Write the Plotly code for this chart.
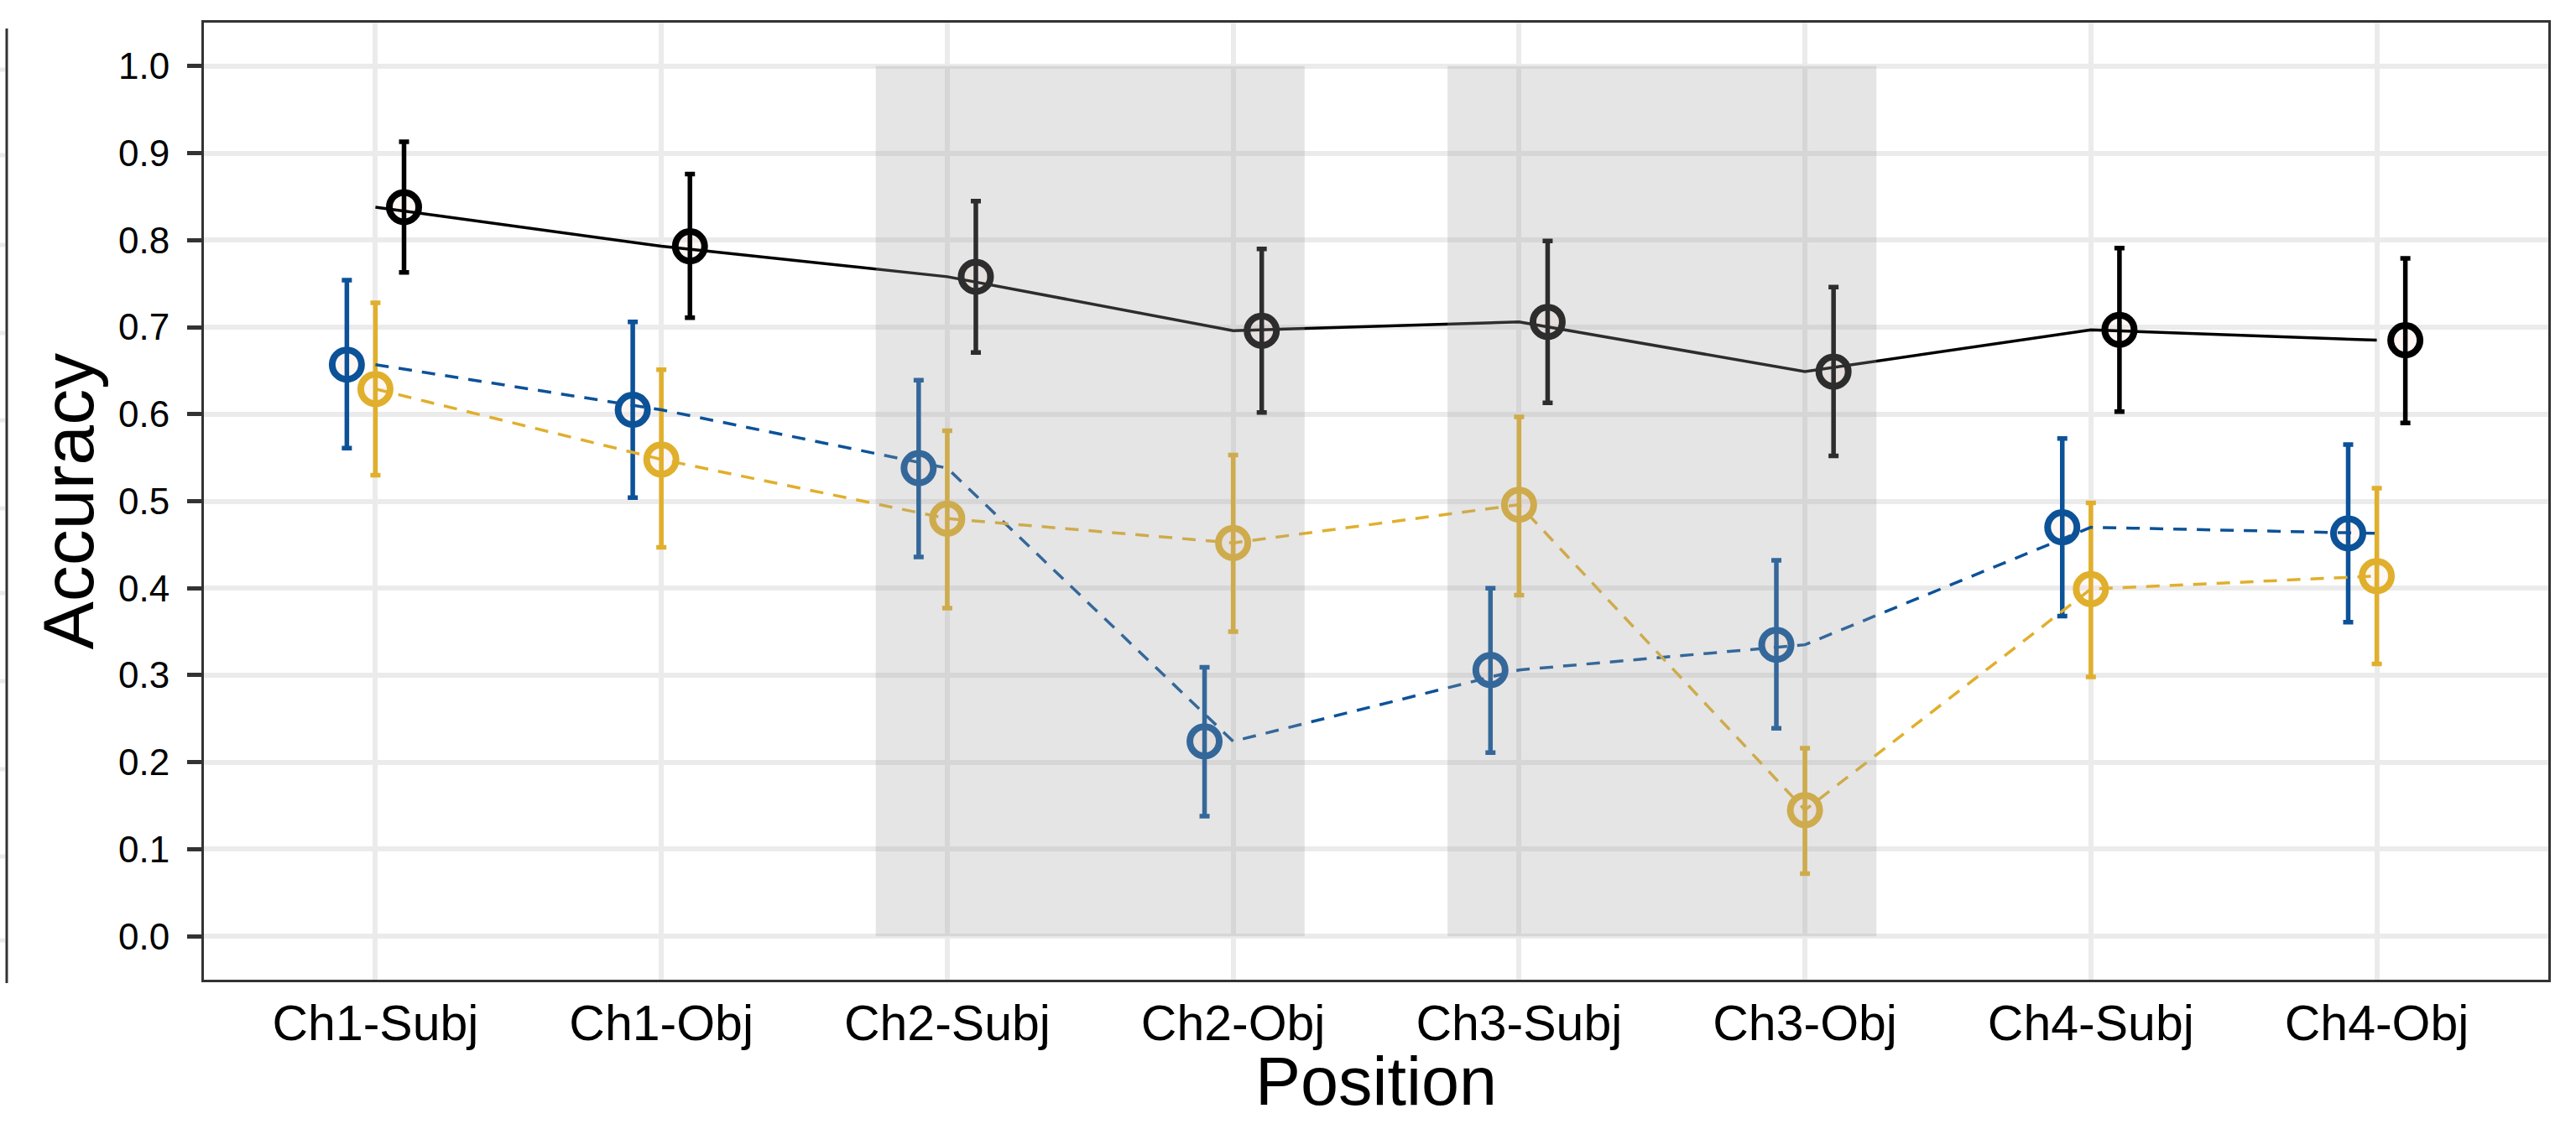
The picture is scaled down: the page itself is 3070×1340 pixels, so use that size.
import plotly.graph_objects as go

# ---------------- data ----------------
categories = ["Ch1-Subj", "Ch1-Obj", "Ch2-Subj", "Ch2-Obj",
              "Ch3-Subj", "Ch3-Obj", "Ch4-Subj", "Ch4-Obj"]

blue_mean = [0.657, 0.605, 0.538, 0.224, 0.306, 0.335, 0.470, 0.463]
blue_hi   = [0.754, 0.706, 0.639, 0.309, 0.400, 0.432, 0.572, 0.565]
blue_lo   = [0.561, 0.504, 0.436, 0.138, 0.211, 0.239, 0.368, 0.361]

yellow_mean = [0.629, 0.548, 0.480, 0.452, 0.496, 0.145, 0.399, 0.414]
yellow_hi   = [0.728, 0.651, 0.581, 0.553, 0.597, 0.216, 0.498, 0.515]
yellow_lo   = [0.530, 0.447, 0.377, 0.350, 0.392, 0.072, 0.298, 0.313]

black_mean = [0.838, 0.793, 0.758, 0.696, 0.706, 0.649, 0.697, 0.685]
black_hi   = [0.913, 0.876, 0.845, 0.790, 0.799, 0.746, 0.791, 0.779]
black_lo   = [0.763, 0.711, 0.671, 0.602, 0.613, 0.552, 0.603, 0.590]

y_ticks = [0.0, 0.1, 0.2, 0.3, 0.4, 0.5, 0.6, 0.7, 0.8, 0.9, 1.0]
y_tick_labels = ["0.0", "0.1", "0.2", "0.3", "0.4", "0.5",
                 "0.6", "0.7", "0.8", "0.9", "1.0"]

shaded_spans = [("Ch2-Subj", "Ch2-Obj"), ("Ch3-Subj", "Ch3-Obj")]

# ---------------- styling ----------------
W, H = 3070, 1340
ML, MR, MT, MB = 243, 33, 27, 172
PW, PH = W - ML - MR, H - MT - MB

series = [
    dict(mean=blue_mean, hi=blue_hi, lo=blue_lo, color="#0C5298",
         dash="16px,12px", offset=-0.1),
    dict(mean=yellow_mean, hi=yellow_hi, lo=yellow_lo, color="#E0AF2C",
         dash="16px,12px", offset=0.0),
    dict(mean=black_mean, hi=black_hi, lo=black_lo, color="#000000",
         dash="solid", offset=0.1),
]

idx = list(range(len(categories)))
fig = go.Figure()

# markers (light fill) then error bars on top, then lines
for s in series:
    xs = [i + s["offset"] for i in idx]
    fig.add_trace(go.Scatter(
        x=xs, y=s["mean"], mode="markers", showlegend=False, hoverinfo="skip",
        marker=dict(symbol="circle", size=35,
                    color="rgba(255,225,210,0.25)",
                    line=dict(color=s["color"], width=8)),
    ))
for s in series:
    xs = [i + s["offset"] for i in idx]
    fig.add_trace(go.Scatter(
        x=xs, y=s["mean"], mode="markers", showlegend=False, hoverinfo="skip",
        marker=dict(size=1, color="rgba(0,0,0,0)"),
        error_y=dict(type="data", symmetric=False,
                     array=[h - m for h, m in zip(s["hi"], s["mean"])],
                     arrayminus=[m - l for m, l in zip(s["mean"], s["lo"])],
                     color=s["color"], thickness=5.5, width=6),
    ))
for s in series:
    fig.add_trace(go.Scatter(
        x=idx, y=s["mean"], mode="lines", showlegend=False, hoverinfo="skip",
        line=dict(color=s["color"], width=3.5, dash=s["dash"]),
    ))

shapes = []
for a, b in shaded_spans:
    shapes.append(dict(type="rect", xref="x", yref="y",
                       x0=categories.index(a) - 0.25, x1=categories.index(b) + 0.25,
                       y0=0, y1=1, fillcolor="rgba(162,162,162,0.28)",
                       line=dict(width=0), layer="above"))

# fragment of the neighbouring (cropped) panel at the far left edge
def px_x(p):
    return (p - ML) / PW

def px_y(p):
    return (H - MB - p) / PH

shapes.append(dict(type="line", xref="paper", yref="paper",
                   x0=px_x(8), x1=px_x(8), y0=px_y(34), y1=px_y(1172),
                   line=dict(color="#333333", width=3), layer="above"))
for p in [83, 185, 292, 397, 501, 606, 707, 812, 917, 1021, 1121]:
    shapes.append(dict(type="line", xref="paper", yref="paper",
                       x0=px_x(0), x1=px_x(6), y0=px_y(p), y1=px_y(p),
                       line=dict(color="#EBEBEB", width=5)))

font_family = "Liberation Sans, Arial, Helvetica, sans-serif"

fig.update_layout(
    width=W, height=H, autosize=False,
    margin=dict(l=ML, r=MR, t=MT, b=MB, pad=0),
    paper_bgcolor="white", plot_bgcolor="white",
    font=dict(family=font_family, color="#1A1A1A"),
    shapes=shapes,
    annotations=[
        dict(text="Accuracy", xref="paper", yref="paper",
             x=px_x(80), y=0.5, xanchor="center", yanchor="middle",
             textangle=-90, showarrow=False,
             font=dict(size=86, color="#000000", family=font_family)),
        dict(text="Position", xref="paper", yref="paper",
             x=0.5, y=px_y(1289), xanchor="center", yanchor="middle",
             showarrow=False,
             font=dict(size=81, color="#000000", family=font_family)),
    ],
)

fig.update_xaxes(
    range=[-0.6, 7.6], tickmode="array", tickvals=idx, ticktext=categories,
    showgrid=True, gridcolor="#EBEBEB", gridwidth=5.5, zeroline=False,
    showline=True, linecolor="#333333", linewidth=3, mirror=True,
    ticks="", tickfont=dict(size=59, color="#000000", family=font_family),
    ticklabelstandoff=-2,
)
fig.update_yaxes(
    range=[-0.05, 1.05], tickmode="array", tickvals=y_ticks, ticktext=y_tick_labels,
    showgrid=True, gridcolor="#EBEBEB", gridwidth=5.5, zeroline=False,
    showline=True, linecolor="#333333", linewidth=3, mirror=True,
    ticks="outside", ticklen=17, tickwidth=5, tickcolor="#333333",
    tickfont=dict(size=44, color="#000000", family=font_family),
    ticklabelstandoff=12,
)

fig.write_html("out.html", config={"displayModeBar": False},
               post_script="document.body.style.margin='0';document.body.style.overflow='hidden';")
